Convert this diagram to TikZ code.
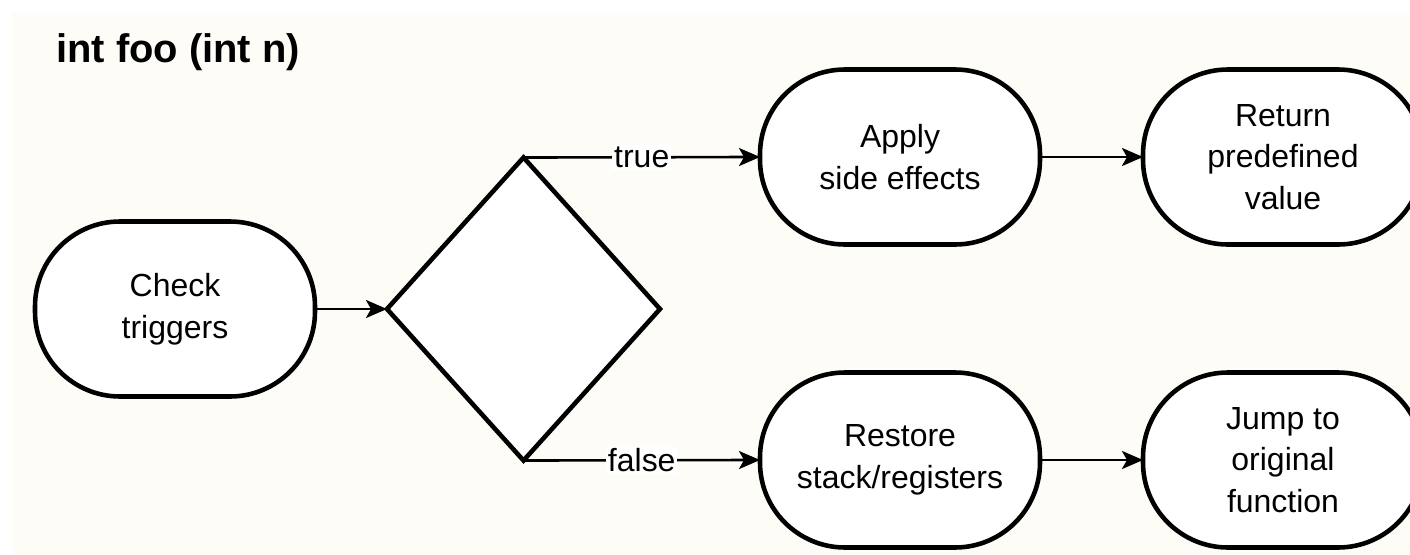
\documentclass[tikz,border=0pt]{standalone}
\usepackage{fontspec}
\setmainfont{Liberation Sans}
\usetikzlibrary{shapes.geometric,arrows.meta,positioning}
\definecolor{paper}{RGB}{253,252,247}

\begin{document}
\begin{tikzpicture}[
  term/.style={rectangle, rounded corners=1.7cm, draw, line width=2.6pt, fill=white, minimum width=5.6cm, minimum height=3.5cm, align=center, outer sep=0pt},
  decision/.style={diamond, draw, line width=2.6pt, fill=white, minimum width=5.46cm, minimum height=6.06cm, inner sep=0pt, outer sep=0pt},
  flow/.style={-{Stealth[length=0.42cm,width=0.36cm,inset=0.1cm]}, line width=1.5pt},
  lbl/.style={fill=white, inner sep=1pt},
  font=\fontsize{18.2}{23.6}\selectfont
]
\useasboundingbox (0,0) rectangle (28.2,-11.08);
\fill[paper] (0.24,-0.26) rectangle (28.2,-11.08);

\node[anchor=base west, font=\bfseries\fontsize{22.7}{27}\selectfont] (title) at (1.0,-1.24) {int foo (int n)};

\node[term] (check) at (3.5,-6.18) {Check\\triggers};
\node[decision, right of=check, node distance=6.97cm] (dec) {};
\node[term, right of=dec, node distance=7.53cm, yshift=3.04cm] (apply) {Apply\\side effects};
\node[term, right of=apply, node distance=7.66cm] (ret) {Return\\predefined\\value};
\node[term, right of=dec, node distance=7.53cm, yshift=-3.02cm] (restore) {Restore\\stack/registers};
\node[term, right of=restore, node distance=7.66cm] (jump) {Jump to\\original\\function};

\draw[flow] (check) -- (dec);
\draw[flow] (dec.north) -- node[lbl] {true} (apply.west);
\draw[flow] (dec.south) -- node[lbl] {false} (restore.west);
\draw[flow] (apply) -- (ret);
\draw[flow] (restore) -- (jump);
\end{tikzpicture}
\end{document}
